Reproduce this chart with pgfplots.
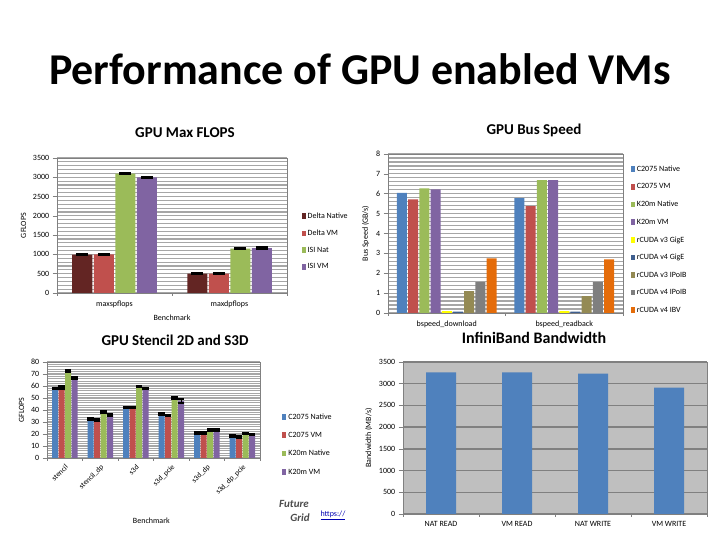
\documentclass[border=0pt]{standalone}
\usepackage{pgfplots}
\pgfplotsset{compat=1.18}
\usepackage{fontspec}
\setmainfont{Carlito}
\definecolor{c1}{HTML}{4F81BD}
\definecolor{c2}{HTML}{C0504D}
\definecolor{c3}{HTML}{9BBB59}
\definecolor{c4}{HTML}{8064A2}
\definecolor{dn}{HTML}{632523}
\definecolor{cy}{HTML}{FFFF00}
\definecolor{cdb}{HTML}{3F5F8F}
\definecolor{col}{HTML}{948A54}
\definecolor{cgr}{HTML}{7F7F7F}
\definecolor{cor}{HTML}{E46C0A}
\definecolor{gridg}{HTML}{A6A6A6}
\definecolor{axg}{HTML}{808080}
\pgfplotsset{
  mybar/.style={
    ybar, scale only axis, anchor=south west,
    axis line style={axg},
    tick label style={font=\fontsize{8}{9}\selectfont},
    label style={font=\fontsize{8}{9}\selectfont},
    /pgf/number format/assume math mode=true,
    /pgf/number format/1000 sep={},
    ymajorgrids, yminorgrids, minor y tick num=4,
    major grid style={gridg, line width=1.2pt},
    minor grid style={gridg, line width=1.2pt},
    tick pos=left, tick align=outside,
    major x tick style={draw=none},
    minor x tick style={draw=axg, line width=0.6pt},
    ytick style={draw=axg, line width=0.6pt},
    minor y tick style={draw=none},
    legend style={draw=none, fill=none, font=\fontsize{8}{9}\selectfont},
    legend cell align=left,
    every axis plot/.append style={legend image code/.code={\fill[##1, draw=none] (0pt,-2.5pt) rectangle (4pt,3pt);}},
    scaled y ticks=false,
  },
  cap/.style={error bars/.cd, y dir=both, y explicit,
    error bar style={black, line width=1pt},
    error mark options={black, rotate=90, line width=2.2pt, mark size=#1}},
}
\begin{document}
\begin{tikzpicture}
\useasboundingbox (0pt,0pt) rectangle (720pt,540pt);
\node[font=\fontsize{44}{44}\selectfont\bfseries] at (360pt,471pt) {Performance of GPU enabled VMs};
\node[font=\fontsize{15}{15}\selectfont\bfseries] at (185pt,407pt) {GPU Max FLOPS};
\node[font=\fontsize{15}{15}\selectfont\bfseries] at (534pt,410pt) {GPU Bus Speed};
\node[font=\fontsize{15}{15}\selectfont\bfseries] at (175pt,200pt) {GPU Stencil 2D and S3D};
\node[font=\fontsize{16}{16}\selectfont\bfseries] at (534pt,202pt) {InfiniBand Bandwidth};
\node[font=\fontsize{11}{11}\selectfont\bfseries\itshape, text=black!70] at (294pt,36pt) {Future};
\node[font=\fontsize{11}{11}\selectfont\bfseries\itshape, text=black!70] at (300pt,22pt) {Grid};
\node[font=\fontsize{8}{9}\selectfont, text=blue!70!black] at (333pt,25pt) {\underline{https://}};

% Chart 1
\begin{axis}[mybar, at={(57pt,247pt)}, width=230pt, height=135pt,
  ymin=0, ymax=3500, ytick={0,500,...,3500},
  xmin=-0.5, xmax=1.5, xtick={0,1}, xticklabels={maxspflops,maxdpflops},
  minor xtick={-0.5,0.5,1.5},
  bar width=20pt, ybar=1.5pt,
  ylabel={GFLOPS}, xlabel={Benchmark},
  legend style={at={(1.05,0.38)}, anchor=west, row sep=6pt},
]
\addplot[fill=dn, draw=none, cap=6pt] table[x=x,y=y,y error=e] {
x y e
0 995 12
1 500 12
};
\addplot[fill=c2, draw=none, cap=6pt] table[x=x,y=y,y error=e] {
x y e
0 1000 12
1 505 12
};
\addplot[fill=c3, draw=none, cap=6pt] table[x=x,y=y,y error=e] {
x y e
0 3095 12
1 1150 12
};
\addplot[fill=c4, draw=none, cap=6pt] table[x=x,y=y,y error=e] {
x y e
0 3000 12
1 1165 12
};
\legend{Delta Native, Delta VM, ISI Nat, ISI VM}
\end{axis}

% Chart 2
\begin{axis}[mybar, at={(388pt,227pt)}, width=235pt, height=159pt,
  ymin=0, ymax=8, ytick={0,1,...,8},
  xmin=-0.5, xmax=1.5, xtick={0,1}, xticklabels={bspeed\_download,bspeed\_readback},
  minor xtick={-0.5,0.5,1.5},
  bar width=10pt, ybar=1.2pt,
  ylabel={Bus Speed (GB/s)},
  legend style={at={(1.02,0.46)}, anchor=west, row sep=6.8pt},
]
\addplot[fill=c1, draw=none] coordinates {(0,6.05) (1,5.78)};
\addplot[fill=c2, draw=none] coordinates {(0,5.72) (1,5.38)};
\addplot[fill=c3, draw=none] coordinates {(0,6.27) (1,6.68)};
\addplot[fill=c4, draw=none] coordinates {(0,6.22) (1,6.68)};
\addplot[fill=cy, draw=none] coordinates {(0,0.10) (1,0.10)};
\addplot[fill=cdb, draw=none] coordinates {(0,0.07) (1,0.07)};
\addplot[fill=col, draw=none] coordinates {(0,1.10) (1,0.85)};
\addplot[fill=cgr, draw=none] coordinates {(0,1.55) (1,1.55)};
\addplot[fill=cor, draw=none] coordinates {(0,2.75) (1,2.70)};
\legend{C2075 Native, C2075 VM, K20m Native, K20m VM, rCUDA v3 GigE, rCUDA v4 GigE, rCUDA v3 IPoIB, rCUDA v4 IPoIB, rCUDA v4 IBV}
\end{axis}

% Chart 3
\begin{axis}[mybar, at={(47pt,82pt)}, width=213pt, height=96pt,
  ymin=0, ymax=80, ytick={0,10,...,80},
  xmin=-0.5, xmax=5.5, xtick={0,...,5},
  xticklabels={stencil,stencil\_dp,s3d,s3d\_pcie,s3d\_dp,s3d\_dp\_pcie},
  xticklabel style={rotate=45, anchor=north east, font=\fontsize{7.5}{8}\selectfont, inner sep=1pt},
  minor xtick={-0.5,0.5,...,5.5},
  bar width=6pt, ybar=0.5pt,
  ylabel={GFLOPS}, xlabel={Benchmark},
  xlabel style={at={(axis description cs:0.49,-0.65)}, anchor=center},
  legend style={at={(1.09,0.14)}, anchor=west, row sep=7.5pt},
]
\addplot[fill=c1, draw=none, cap=3.2pt] table[x=x,y=y,y error=e] {
x y e
0 58 0.6
1 32.5 0.6
2 42 0.6
3 36.5 0.6
4 21 0.6
5 18.5 0.6
};
\addplot[fill=c2, draw=none, cap=3.2pt] table[x=x,y=y,y error=e] {
x y e
0 58.5 1
1 31.5 0.6
2 42 0.6
3 35.5 0.6
4 21 0.6
5 17.5 0.6
};
\addplot[fill=c3, draw=none, cap=3.2pt] table[x=x,y=y,y error=e] {
x y e
0 72.5 0.6
1 38.5 0.6
2 59.5 0.6
3 50 0.6
4 23.5 0.6
5 20.5 0.6
};
\addplot[fill=c4, draw=none, cap=3.2pt] table[x=x,y=y,y error=e] {
x y e
0 67 0.8
1 36 0.6
2 58 0.6
3 47.5 1.5
4 23.5 0.6
5 19.5 0.6
};
\legend{C2075 Native, C2075 VM, K20m Native, K20m VM}
\end{axis}

% Chart 4
\begin{axis}[mybar, at={(403pt,26pt)}, width=304pt, height=152pt,
  axis background/.style={fill=black!25},
  yminorgrids=false,
  major grid style={axg, line width=1.5pt},
  ymin=0, ymax=3500, ytick={0,500,...,3500},
  xmin=-0.5, xmax=3.5, xtick={0,...,3},
  xticklabels={NAT READ,VM READ,NAT WRITE,VM WRITE},
  minor xtick={-0.5,0.5,...,3.5},
  bar width=30pt,
  ylabel={Bandwidth (MB/s)},
]
\addplot[fill=c1, draw=none] coordinates {(0,3260) (1,3260) (2,3235) (3,2910)};
\end{axis}
\end{tikzpicture}
\end{document}
